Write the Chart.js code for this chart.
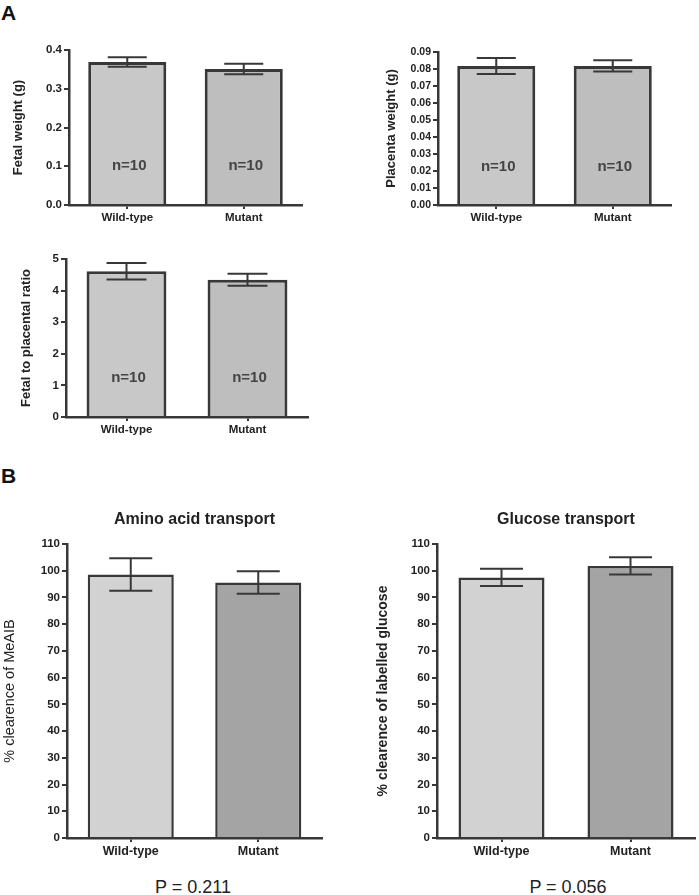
<!DOCTYPE html>
<html>
<head>
<meta charset="utf-8">
<script src="https://cdn.jsdelivr.net/npm/chart.js@4.4.0/dist/chart.umd.min.js"></script>
<style>
  body { margin: 0; background: #fff; font-family: 'Liberation Sans', Arial, sans-serif; }
  #page { position: relative; width: 699px; height: 895px; overflow: hidden; }
  canvas, .lbl { position: absolute; }
  .panel { font-weight: bold; font-size: 21px; line-height: 1; color: #111; }
  .pval { font-size: 18px; line-height: 1; color: #222; width: 200px; text-align: center; }
</style>
</head>
<body>
<div id="page">
  <div class="lbl panel" style="left:1px; top:2px;">A</div>
  <div class="lbl panel" style="left:1px; top:465px;">B</div>

  <canvas id="fetal" width="310" height="205" style="left:0px; top:30px;"></canvas>
  <canvas id="placenta" width="330" height="205" style="left:350px; top:30px;"></canvas>
  <canvas id="ratio" width="315" height="205" style="left:0px; top:240px;"></canvas>
  <canvas id="amino" width="330" height="373" style="left:0px; top:495px;"></canvas>
  <canvas id="glucose" width="349" height="373" style="left:350px; top:495px;"></canvas>

  <div class="lbl pval" style="left:93px; top:878px;">P = 0.211</div>
  <div class="lbl pval" style="left:468px; top:878px;">P = 0.056</div>
</div>

<script>
// data (mean and SEM)
const groups = ['Wild-type', 'Mutant'];
const nCounts = ['n=10', 'n=10'];

const fetalMean = [0.369, 0.351];
const fetalSem = [0.012, 0.0135];

const placentaMean = [0.0818, 0.0818];
const placentaSem = [0.0047, 0.0033];

const ratioMean = [4.61, 4.34];
const ratioSem = [0.26, 0.19];

const aminoMean = [98.6, 95.6];
const aminoSem = [6.1, 4.2];

const glucoseMean = [97.5, 101.8];
const glucoseSem = [3.2, 3.2];

const FONT = "'Liberation Sans', Arial, sans-serif";
const AXIS = '#383838';

// error bars + "n=" labels drawn from the scales
const errorBars = {
    id: 'errorBars',
    afterDatasetsDraw: function (chart, args, opts) {
        let ctx = chart.ctx;
        let yScale = chart.scales.y;
        let meta = chart.getDatasetMeta(0);
        let values = chart.data.datasets[0].data;
        ctx.save();
        ctx.strokeStyle = AXIS;
        ctx.lineWidth = 2;
        meta.data.forEach(function (bar, i) {
            let hi = yScale.getPixelForValue(values[i] + opts.sem[i]);
            let lo = yScale.getPixelForValue(values[i] - opts.sem[i]);
            let half = bar.width / 4;
            ctx.beginPath();
            ctx.moveTo(bar.x, hi); ctx.lineTo(bar.x, lo);
            ctx.moveTo(bar.x - half, hi); ctx.lineTo(bar.x + half, hi);
            ctx.moveTo(bar.x - half, lo); ctx.lineTo(bar.x + half, lo);
            ctx.stroke();
        });
        if (opts.labels) {
            let area = chart.chartArea;
            ctx.fillStyle = '#444';
            ctx.font = 'bold 15px ' + FONT;
            ctx.textAlign = 'center';
            ctx.textBaseline = 'middle';
            meta.data.forEach(function (bar, i) {
                ctx.fillText(opts.labels[i], bar.x + 2, area.top + area.height * 0.75);
            });
        }
        ctx.restore();
    }
};

function makeChart(id, cfg) {
    let ctx = document.getElementById(id).getContext('2d');
    return new Chart(ctx, {
        type: 'bar',
        data: {
            labels: groups,
            datasets: [{
                data: cfg.values,
                backgroundColor: cfg.colors,
                borderColor: AXIS,
                borderWidth: cfg.barBorder,
                barPercentage: 1,
                categoryPercentage: cfg.barFrac
            }]
        },
        options: {
            responsive: false,
            animation: false,
            layout: { padding: { top: cfg.padTop, right: cfg.padRight, left: 0, bottom: 0 } },
            plugins: {
                legend: { display: false },
                tooltip: { enabled: false },
                title: cfg.title ? {
                    display: true,
                    text: cfg.title,
                    fullSize: false,
                    color: '#222',
                    font: { family: FONT, size: 16, weight: 'bold' },
                    padding: { top: 15.4, bottom: 14.4 }
                } : { display: false },
                errorBars: { sem: cfg.sem, labels: cfg.nLabels }
            },
            scales: {
                x: {
                    afterFit: function (s) { s.height = cfg.xHeight; },
                    border: { display: true, color: AXIS, width: 2.5 },
                    grid: { drawOnChartArea: false, drawTicks: true, tickLength: 4, color: AXIS, lineWidth: 2, offset: false },
                    ticks: { color: '#222', padding: 2, font: { family: FONT, size: cfg.xTickSize || 11.5, weight: 'bold' } }
                },
                y: {
                    min: cfg.min,
                    max: cfg.max,
                    afterFit: function (s) { s.width = cfg.axisWidth; },
                    border: { display: true, color: AXIS, width: 2.5 },
                    grid: { drawOnChartArea: false, drawTicks: true, tickLength: 5, color: AXIS, lineWidth: 2 },
                    ticks: {
                        stepSize: cfg.step,
                        color: '#222',
                        padding: 2,
                        font: { family: FONT, size: cfg.tickSize || 11.5, weight: 'bold' },
                        callback: function (v) { return Number(v).toFixed(cfg.decimals); }
                    },
                    title: {
                        display: true,
                        text: cfg.yTitle,
                        color: '#222',
                        font: { family: FONT, size: cfg.yTitleSize || 13, weight: cfg.yTitleWeight || 'bold' },
                        padding: { top: cfg.yTitlePad, bottom: 0 }
                    }
                }
            }
        },
        plugins: [errorBars]
    });
}

makeChart('fetal', {
    values: fetalMean, sem: fetalSem, nLabels: nCounts,
    colors: ['#c8c8c8', '#bebebe'], barBorder: 3, barFrac: 0.67,
    min: 0, max: 0.4, step: 0.1, decimals: 1,
    yTitle: 'Fetal weight (g)', yTitlePad: 11,
    padTop: 20, padRight: 8, axisWidth: 69, xHeight: 30
});

makeChart('placenta', {
    values: placentaMean, sem: placentaSem, nLabels: nCounts,
    colors: ['#c8c8c8', '#bebebe'], barBorder: 3, barFrac: 0.67,
    min: 0, max: 0.09, step: 0.01, decimals: 2, tickSize: 10.5,
    yTitle: 'Placenta weight (g)', yTitlePad: 34,
    padTop: 22, padRight: 9, axisWidth: 88, xHeight: 30
});

makeChart('ratio', {
    values: ratioMean, sem: ratioSem, nLabels: nCounts,
    colors: ['#c8c8c8', '#bebebe'], barBorder: 3, barFrac: 0.66,
    min: 0, max: 5, step: 1, decimals: 0,
    yTitle: 'Fetal to placental ratio', yTitlePad: 19,
    padTop: 19, padRight: 7, axisWidth: 66, xHeight: 28
});

makeChart('amino', {
    values: aminoMean, sem: aminoSem,
    colors: ['#d2d2d2', '#a4a4a4'], barBorder: 2.5, barFrac: 0.675,
    min: 0, max: 110, step: 10, decimals: 0, xTickSize: 12.5,
    title: 'Amino acid transport',
    yTitle: '% clearence of MeAIB', yTitlePad: 1, yTitleSize: 14.5, yTitleWeight: 'normal',
    padTop: 0, padRight: 8, axisWidth: 67, xHeight: 30
});

makeChart('glucose', {
    values: glucoseMean, sem: glucoseSem,
    colors: ['#d2d2d2', '#a4a4a4'], barBorder: 2.5, barFrac: 0.667, xTickSize: 12.5,
    min: 0, max: 110, step: 10, decimals: 0,
    title: 'Glucose transport',
    yTitle: '% clearence of labelled glucose', yTitlePad: 25, yTitleSize: 14,
    padTop: 0, padRight: 4, axisWidth: 87, xHeight: 30
});
</script>
</body>
</html>
